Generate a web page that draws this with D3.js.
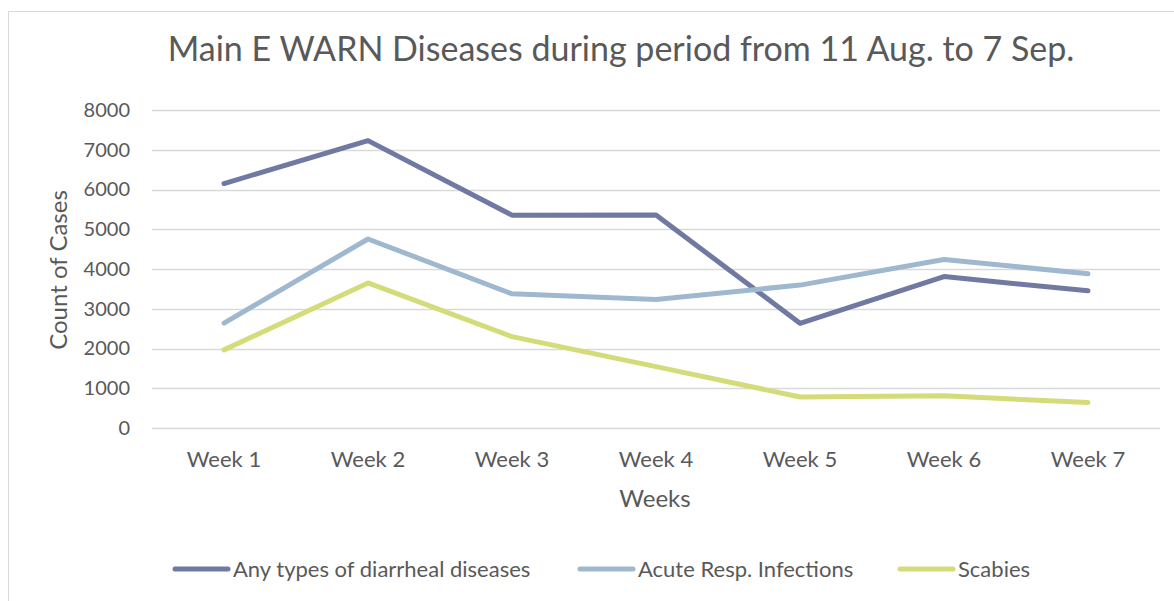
<!DOCTYPE html>
<html><head><meta charset="utf-8">
<script src="https://cdn.jsdelivr.net/npm/d3@7"></script>
<style>
html,body{margin:0;padding:0;background:#fff;}
svg{display:block;font-family:Lato,"Open Sans",sans-serif;}
</style></head>
<body>
<svg id="chart" width="1174" height="601"></svg>
<script>
const categories = ["Week 1","Week 2","Week 3","Week 4","Week 5","Week 6","Week 7"];
const diarrheal = [6150, 7230, 5355, 5360, 2635, 3810, 3450];
const ari = [2640, 4755, 3375, 3235, 3595, 4240, 3880];
const scabies = [1965, 3650, 2300, 1545, 780, 810, 640];
const yTicks = [0,1000,2000,3000,4000,5000,6000,7000,8000];
const seriesNames = ["Any types of diarrheal diseases","Acute Resp. Infections","Scabies"];
const seriesColors = ["#6f79a2","#9fb8cf","#d4dc7a"];
const title = "Main E WARN Diseases during period from 11 Aug. to 7 Sep.";

const series = [diarrheal, ari, scabies].map((v,i)=>({name:seriesNames[i], color:seriesColors[i], values:v}));

const svg = d3.select("#chart");
const textColor = "#595959";

svg.append("rect").attr("x",8.5).attr("y",11.5).attr("width",1200).attr("height",700)
  .attr("fill","#fff").attr("stroke","#d9d9d9").attr("stroke-width",1);

const x = d3.scaleBand().domain(categories).range([152,1160]);
const y = d3.scaleLinear().domain([0,8000]).range([428,110]);

// gridlines
svg.append("g").selectAll("line").data(yTicks).join("line")
  .attr("x1",152).attr("x2",1160)
  .attr("y1",d=>Math.round(y(d))+0.5).attr("y2",d=>Math.round(y(d))+0.5)
  .attr("stroke","#d9d9d9").attr("stroke-width",1.5);

// y axis labels
const yAxis = svg.append("g").attr("transform","translate(140,0)")
  .call(d3.axisLeft(y).tickValues(yTicks).tickSize(0).tickPadding(10).tickFormat(d3.format("d")));
yAxis.select(".domain").remove();
yAxis.selectAll("text").attr("fill",textColor).style("font-size","20px").style("font-family","Lato,sans-serif");

// x axis labels
const xAxis = svg.append("g").attr("transform","translate(0,467)")
  .call(d3.axisBottom(x).tickSize(0).tickPadding(0));
xAxis.select(".domain").remove();
xAxis.selectAll("text").attr("dy",null).attr("fill",textColor).style("font-size","22px").style("font-family","Lato,sans-serif");

// lines
const line = d3.line().x((d,i)=>x(categories[i])+x.bandwidth()/2).y(d=>y(d));
svg.append("g").selectAll("path").data(series).join("path")
  .attr("d",d=>line(d.values)).attr("fill","none")
  .attr("stroke",d=>d.color).attr("stroke-width",5)
  .attr("stroke-linecap","round").attr("stroke-linejoin","round");

// title
svg.append("text").attr("x",621).attr("y",61).attr("text-anchor","middle")
  .attr("fill",textColor).style("font-size","34px").text(title);

// axis titles
svg.append("text").attr("x",655).attr("y",507).attr("text-anchor","middle")
  .attr("fill",textColor).style("font-size","24px").text("Weeks");
svg.append("text").attr("transform","translate(67,270) rotate(-90)").attr("text-anchor","middle")
  .attr("fill",textColor).style("font-size","24px").text("Count of Cases");

// legend
const legendX = [173, 578, 898];
const lg = svg.append("g").selectAll("g").data(series).join("g")
  .attr("transform",(d,i)=>`translate(${legendX[i]},569)`);
lg.append("line").attr("x1",2).attr("x2",55).attr("y1",0).attr("y2",0)
  .attr("stroke",d=>d.color).attr("stroke-width",5).attr("stroke-linecap","round");
lg.append("text").attr("x",60).attr("y",8).attr("fill",textColor)
  .style("font-size","22px").text(d=>d.name);
</script>
</body></html>
